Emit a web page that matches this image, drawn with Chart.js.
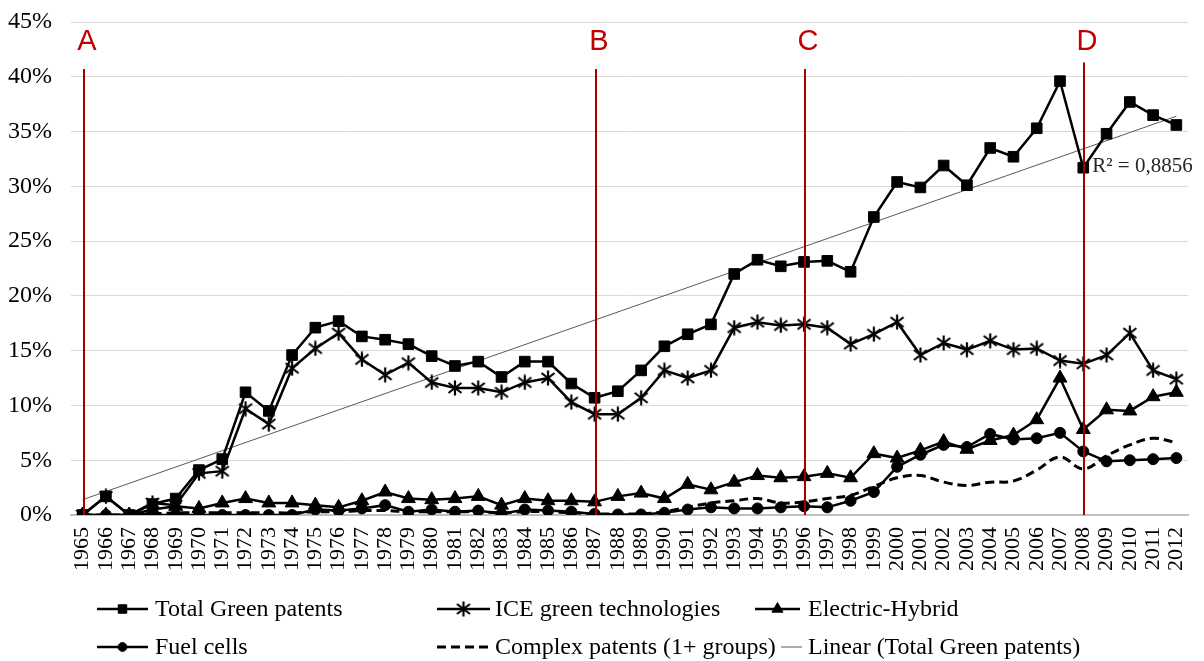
<!DOCTYPE html>
<html>
<head>
<meta charset="utf-8">
<script src="https://cdn.jsdelivr.net/npm/chart.js@4.4.1/dist/chart.umd.min.js"></script>
<style>
  html, body { margin: 0; padding: 0; background: #ffffff; }
  #wrap { width: 1204px; height: 661px; position: relative; }
</style>
</head>
<body>
<div id="wrap"><canvas id="chartPatentes"></canvas></div>
<script>
// Datos (porcentajes)
const years = ['1965','1966','1967','1968','1969','1970','1971','1972','1973','1974',
  '1975','1976','1977','1978','1979','1980','1981','1982','1983','1984',
  '1985','1986','1987','1988','1989','1990','1991','1992','1993','1994',
  '1995','1996','1997','1998','1999','2000','2001','2002','2003','2004',
  '2005','2006','2007','2008','2009','2010','2011','2012'];

const totalGreen = [0, 1.7, 0, 1.0, 1.5, 4.1, 5.1, 11.2, 9.5, 14.6,
  17.1, 17.7, 16.3, 16.0, 15.6, 14.5, 13.6, 14.0, 12.6, 14.0,
  14.0, 12.0, 10.7, 11.3, 13.2, 15.4, 16.5, 17.4, 22.0, 23.3,
  22.7, 23.1, 23.2, 22.2, 27.2, 30.4, 29.9, 31.9, 30.1, 33.5,
  32.7, 35.3, 39.6, 31.7, 34.8, 37.7, 36.5, 35.6];

const iceGreen = [0, 1.7, 0, 1.1, 0.9, 3.8, 4.0, 9.7, 8.3, 13.4,
  15.2, 16.6, 14.2, 12.8, 13.9, 12.1, 11.6, 11.6, 11.2, 12.1,
  12.5, 10.3, 9.2, 9.2, 10.7, 13.2, 12.5, 13.2, 17.1, 17.6,
  17.3, 17.4, 17.1, 15.6, 16.5, 17.6, 14.6, 15.7, 15.1, 15.9,
  15.1, 15.2, 14.1, 13.8, 14.6, 16.6, 13.2, 12.4];

const electricHybrid = [0, 0, 0, 0.5, 0.8, 0.6, 1.1, 1.5, 1.1, 1.1,
  0.9, 0.7, 1.3, 2.1, 1.5, 1.4, 1.5, 1.7, 0.9, 1.5,
  1.3, 1.3, 1.2, 1.7, 2.0, 1.5, 2.8, 2.3, 3.0, 3.6,
  3.4, 3.5, 3.8, 3.4, 5.6, 5.2, 5.9, 6.7, 6.0, 6.8,
  7.3, 8.7, 12.5, 7.8, 9.6, 9.5, 10.8, 11.2];

const fuelCells = [0, 0, 0, 0, 0, 0, 0, 0, 0, 0,
  0.5, 0.4, 0.6, 0.9, 0.3, 0.5, 0.3, 0.4, 0.1, 0.5,
  0.4, 0.3, 0.1, 0.05, 0.05, 0.2, 0.5, 0.7, 0.6, 0.6,
  0.7, 0.8, 0.7, 1.3, 2.1, 4.4, 5.5, 6.4, 6.2, 7.4,
  6.9, 7.0, 7.5, 5.8, 4.9, 5.0, 5.1, 5.2];

const complexPatents = [0, 0, 0, 0.1, 0.2, 0.2, 0.2, 0.2, 0.2, 0.2,
  0.3, 0.3, 0.4, 0.4, 0.3, 0.3, 0.3, 0.3, 0.2, 0.3,
  0.3, 0.2, 0.1, 0.1, 0.1, 0.3, 0.7, 1.1, 1.3, 1.5,
  1.1, 1.2, 1.5, 1.8, 2.6, 3.4, 3.6, 3.0, 2.7, 3.0,
  3.1, 4.1, 5.3, 4.2, 5.4, 6.4, 7.0, 6.6];

// Extremos de la línea de tendencia
const trendYears = ['1965', '2012'];
const trendValues = [1.4, 36.4];

// Marcas verticales A-D
const phaseYears = ['1965', '1987', '1996', '2008'];
const phaseLabels = ['A', 'B', 'C', 'D'];

const yTicks = [0, 5, 10, 15, 20, 25, 30, 35, 40, 45];
const r2Text = 'R² = 0,8856';

const SERIF = '"Liberation Serif", "Times New Roman", serif';

// Marcador asterisco (estilo Excel: vertical + aspa)
const asterisco = document.createElement('canvas');
asterisco.width = 16;
asterisco.height = 16;
(() => {
  const c = asterisco.getContext('2d');
  c.strokeStyle = '#000000';
  c.lineWidth = 2.2;
  c.beginPath();
  c.moveTo(8, 0.5); c.lineTo(8, 15.5);
  c.moveTo(1.5, 3); c.lineTo(14.5, 13);
  c.moveTo(14.5, 3); c.lineTo(1.5, 13);
  c.stroke();
})();

// Plugin: líneas rojas verticales, letras y R²
const pluginFases = {
  id: 'fases',
  afterDatasetsDraw(chart) {
    const { ctx, scales: { x, y } } = chart;
    ctx.save();
    phaseYears.forEach((yr, i) => {
      const px = Math.round(x.getPixelForValue(years.indexOf(yr))) + 1;
      const top = y.getPixelForValue(i === 3 ? 41.3 : 40.7);
      ctx.strokeStyle = '#A50000';
      ctx.lineWidth = 2;
      ctx.beginPath();
      ctx.moveTo(px, top);
      ctx.lineTo(px, y.getPixelForValue(0));
      ctx.stroke();
      ctx.fillStyle = '#C00000';
      ctx.font = '29px "Liberation Sans", sans-serif';
      ctx.textAlign = 'center';
      ctx.textBaseline = 'middle';
      ctx.fillText(phaseLabels[i], px + 3, y.getPixelForValue(43.2));
    });
    // Etiqueta R²
    const i08 = years.indexOf('2008');
    ctx.fillStyle = '#262626';
    ctx.font = '21px ' + SERIF;
    ctx.textAlign = 'left';
    ctx.textBaseline = 'middle';
    ctx.fillText(r2Text, x.getPixelForValue(i08) + 9, y.getPixelForValue(31.8));
    ctx.restore();
  }
};

// Plugin: leyenda en rejilla 3x2 como en el original
const legendSlots = [
  { x0: 97, x1: 148, tx: 155, y: 609 },
  { x0: 437, x1: 490, tx: 495, y: 609 },
  { x0: 755, x1: 800, tx: 808, y: 609 },
  { x0: 97, x1: 148, tx: 155, y: 647 },
  { x0: 437, x1: 490, tx: 495, y: 647 },
  { x0: 781, x1: 802, tx: 808, y: 647 }
];

const pluginLeyenda = {
  id: 'leyenda',
  afterDraw(chart) {
    const ctx = chart.ctx;
    ctx.save();
    chart.data.datasets.forEach((ds, i) => {
      const s = legendSlots[i];
      ctx.strokeStyle = ds.borderColor;
      ctx.lineWidth = ds.borderWidth;
      ctx.setLineDash(ds.borderDash || []);
      ctx.beginPath();
      ctx.moveTo(s.x0, s.y);
      ctx.lineTo(s.x1, s.y);
      ctx.stroke();
      ctx.setLineDash([]);
      if (ds.pointRadius > 0) {
        ctx.fillStyle = ds.pointBackgroundColor;
        ctx.strokeStyle = ds.pointBorderColor;
        ctx.lineWidth = ds.pointBorderWidth;
        Chart.helpers.drawPoint(ctx, {
          pointStyle: ds.pointStyle,
          radius: ds.pointRadius * 0.8,
          borderWidth: ds.pointBorderWidth,
          rotation: 0
        }, (s.x0 + s.x1) / 2, s.y);
      }
      ctx.fillStyle = '#000000';
      ctx.font = '24px ' + SERIF;
      ctx.textAlign = 'left';
      ctx.textBaseline = 'middle';
      ctx.fillText(ds.label, s.tx, s.y + 1);
    });
    ctx.restore();
  }
};

const serie = (label, data, style, radius) => ({
  label: label,
  data: data,
  borderColor: '#000000',
  backgroundColor: '#000000',
  borderWidth: 2.5,
  pointStyle: style,
  pointRadius: radius,
  pointBackgroundColor: '#000000',
  pointBorderColor: '#000000',
  pointBorderWidth: 1,
  tension: 0
});

const ctx = document.getElementById('chartPatentes').getContext('2d');

const chartPatentes = new Chart(ctx, {
  type: 'line',
  data: {
    labels: years,
    datasets: [
      serie('Total Green patents', totalGreen, 'rect', 7.5),
      serie('ICE green technologies', iceGreen, asterisco, 7),
      serie('Electric-Hybrid', electricHybrid, 'triangle', 8),
      serie('Fuel cells', fuelCells, 'circle', 5.5),
      {
        label: 'Complex patents (1+ groups)',
        data: complexPatents,
        borderColor: '#000000',
        borderWidth: 3,
        borderDash: [9, 5],
        pointRadius: 0,
        tension: 0.4
      },
      {
        label: 'Linear (Total Green patents)',
        data: trendYears.map((yr, i) => ({ x: yr, y: trendValues[i] })),
        borderColor: '#595959',
        borderWidth: 1,
        pointRadius: 0,
        tension: 0
      }
    ]
  },
  options: {
    responsive: true,
    maintainAspectRatio: false,
    animation: false,
    layout: { padding: { top: 22, right: 16, left: 0, bottom: 0 } },
    plugins: {
      legend: { display: false },
      tooltip: { enabled: false }
    },
    scales: {
      x: {
        offset: true,
        grid: { display: false, drawTicks: false },
        border: { color: '#BFBFBF', width: 2 },
        ticks: {
          autoSkip: false,
          maxRotation: 90,
          minRotation: 90,
          padding: 12,
          color: '#000000',
          font: { family: SERIF, size: 22 }
        },
        afterFit(scale) {
          scale.height = 146;
          scale.paddingLeft = 0;
          scale.paddingRight = 0;
        }
      },
      y: {
        min: 0,
        max: 45,
        afterBuildTicks(scale) { scale.ticks = yTicks.map(v => ({ value: v })); },
        grid: { color: '#D9D9D9', lineWidth: 1, drawTicks: false },
        border: { display: false },
        ticks: {
          padding: 19,
          color: '#000000',
          font: { family: SERIF, size: 24 },
          callback: v => v + '%'
        },
        afterFit(scale) {
          scale.width = 71;
          scale.paddingTop = 0;
          scale.paddingBottom = 0;
        }
      }
    }
  },
  plugins: [pluginFases, pluginLeyenda]
});
</script>
</body>
</html>
